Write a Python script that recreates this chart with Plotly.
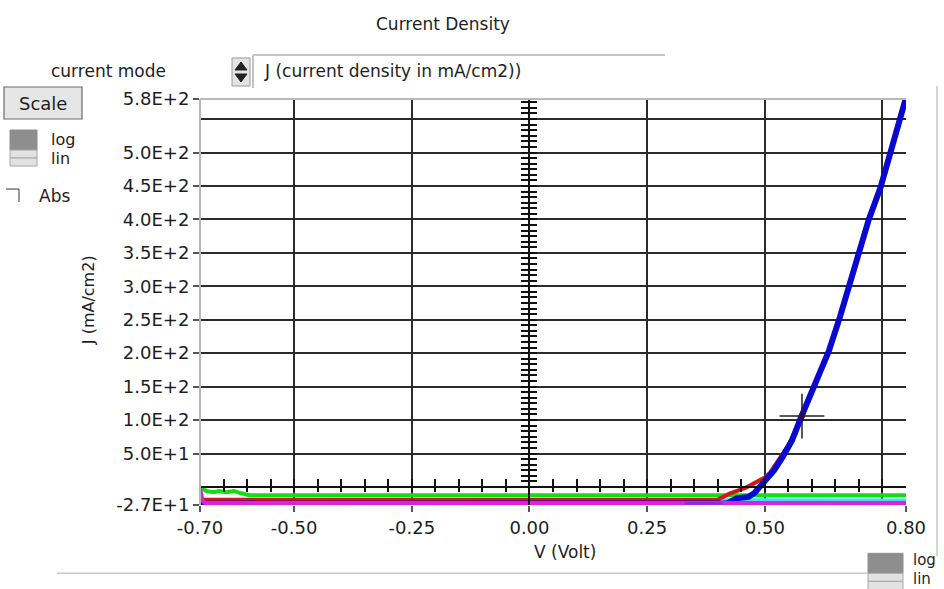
import plotly.graph_objects as go

# ---------------- data ----------------
green_v = [-0.700, -0.685, -0.670, -0.660, -0.643, -0.628, -0.617, -0.596, 0.800]
green_j = [-1.0, -6.5, -8.0, -6.0, -8.0, -6.0, -8.5, -12.5, -12.5]

cyan_v = [0.410, 0.800]
cyan_j = [-19.0, -19.5]

red_v = [-0.700, -0.694, 0.400, 0.425, 0.460, 0.480, 0.500, 0.512, 0.530, 0.550, 0.580, 0.600]
red_j = [-13.0, -19.0, -19.0, -10.0, -1.0, 7.0, 14.0, 22.0, 40.0, 62.0, 106.0, 140.0]

blue_v = [-0.700, -0.690, 0.420, 0.440, 0.465, 0.478, 0.490, 0.500, 0.520, 0.538, 0.558,
          0.577, 0.594, 0.611, 0.636, 0.660, 0.682, 0.721, 0.746, 0.767, 0.787, 0.800]
blue_j = [-25.0, -25.0, -24.5, -17.0, -15.0, -9.0, 0.0, 8.0, 25.0, 45.0, 70.0,
          104.0, 133.0, 160.0, 203.0, 255.0, 305.0, 400.0, 448.0, 498.0, 550.0, 582.0]

magenta_v = [-0.700, -0.695, -0.690, 0.800]
magenta_j = [-1.0, -20.0, -24.0, -24.0]

violet_v = [0.330, 0.410]
violet_j = [-24.5, -24.5]

cursor_v = [0.579]
cursor_j = [106.0]

x_range = [-0.70, 0.80]
y_range = [-27.0, 580.0]

x_tickvals = [-0.70, -0.50, -0.25, 0.00, 0.25, 0.50, 0.80]
x_ticktext = ["-0.70", "-0.50", "-0.25", "0.00", "0.25", "0.50", "0.80"]
x_gridvals = [-0.50, -0.25, 0.25, 0.50, 0.75]
x_minor_ticks = [round(-0.65 + 0.05 * k, 2) for k in range(29)]  # -0.65 .. 0.75

y_tickvals = [-27, 50, 100, 150, 200, 250, 300, 350, 400, 450, 500, 580]
y_ticktext = ["-2.7E+1", "5.0E+1", "1.0E+2", "1.5E+2", "2.0E+2", "2.5E+2", "3.0E+2",
              "3.5E+2", "4.0E+2", "4.5E+2", "5.0E+2", "5.8E+2"]
y_gridvals = [50, 100, 150, 200, 250, 300, 350, 400, 450, 500, 550]
y_minor_ticks = [50.0 / 6.0 * k for k in range(1, 70)]

# ---------------- geometry helpers (pixel -> paper) ----------------
L, R, T, B = 200, 906, 99, 504.7
W, H = 944, 589


def px(x):
    return (x - L) / (R - L)


def py(y):
    return (B - y) / (B - T)


FONT = "DejaVu Sans"
TXT = "#1e1e1e"

fig = go.Figure()


def line_trace(v, j, color, width):
    fig.add_trace(go.Scatter(x=v, y=j, mode="lines", line=dict(color=color, width=width),
                             showlegend=False, hoverinfo="skip", cliponaxis=True))


line_trace(green_v, green_j, "#10e010", 4)
line_trace(cyan_v, cyan_j, "#40e0f0", 3)
line_trace(red_v, red_j, "#d01818", 4)
line_trace(blue_v, blue_j, "#0808d0", 6)
line_trace(magenta_v, magenta_j, "#e020e0", 4)
line_trace(violet_v, violet_j, "#8a2be2", 3)

# cursor
fig.add_trace(go.Scatter(x=cursor_v, y=cursor_j, mode="markers",
                         marker=dict(symbol="cross-thin", size=32, line=dict(color="#222", width=1.5)),
                         showlegend=False, hoverinfo="skip"))
fig.add_trace(go.Scatter(x=cursor_v, y=cursor_j, mode="markers",
                         marker=dict(symbol="circle", size=6, color="#301030"),
                         showlegend=False, hoverinfo="skip"))

# dummy traces to register crossing axes
for xa, ya in [("x2", "y"), ("x3", "y"), ("x", "y2"), ("x", "y3")]:
    fig.add_trace(go.Scatter(x=[None], y=[None], xaxis=xa, yaxis=ya, showlegend=False,
                             hoverinfo="skip"))

y0_frac = (0 - y_range[0]) / (y_range[1] - y_range[0])
x0_frac = (0 - x_range[0]) / (x_range[1] - x_range[0])

tickfont = dict(family=FONT, size=18, color=TXT)

fig.update_layout(
    width=W, height=H,
    margin=dict(l=L, r=W - R, t=T, b=H - B),
    paper_bgcolor="white", plot_bgcolor="white",
    showlegend=False,
    xaxis=dict(range=x_range, tickmode="array", tickvals=x_tickvals, ticktext=x_ticktext,
               ticks="outside", ticklen=6, tickwidth=1.5, tickcolor="#555",
               tickfont=tickfont, showgrid=False, zeroline=False, showline=False,
               minor=dict(tickmode="array", tickvals=x_gridvals, showgrid=True,
                          gridcolor="#2b2b2b", gridwidth=1.8, ticks="")),
    yaxis=dict(range=y_range, tickmode="array", tickvals=y_tickvals, ticktext=y_ticktext,
               ticks="outside", ticklen=6, tickwidth=1.5, tickcolor="#555",
               tickfont=tickfont, showgrid=False, zeroline=False, showline=False,
               minor=dict(tickmode="array", tickvals=y_gridvals, showgrid=True,
                          gridcolor="#2b2b2b", gridwidth=1.8, ticks="")),
    xaxis2=dict(overlaying="x", anchor="free", position=y0_frac, side="bottom", range=x_range,
                tickmode="array", tickvals=x_minor_ticks, ticks="inside", ticklen=7,
                tickwidth=1.5, tickcolor="#111", showticklabels=False, showgrid=False,
                zeroline=False, showline=True, linecolor="#111", linewidth=2),
    xaxis3=dict(overlaying="x", anchor="free", position=y0_frac, side="bottom", range=x_range,
                tickmode="array", tickvals=x_minor_ticks, ticks="outside", ticklen=4,
                tickwidth=1.5, tickcolor="#111", showticklabels=False, showgrid=False,
                zeroline=False, showline=False),
    yaxis2=dict(overlaying="y", anchor="free", position=x0_frac, side="left", range=y_range,
                tickmode="array", tickvals=y_minor_ticks, ticks="outside", ticklen=7,
                tickwidth=1.5, tickcolor="#111", showticklabels=False, showgrid=False,
                zeroline=False, showline=True, linecolor="#111", linewidth=2),
    yaxis3=dict(overlaying="y", anchor="free", position=x0_frac, side="left", range=y_range,
                tickmode="array", tickvals=y_minor_ticks, ticks="inside", ticklen=7,
                tickwidth=1.5, tickcolor="#111", showticklabels=False, showgrid=False,
                zeroline=False, showline=False),
)

shapes = []
ann = []


def rect(x0, y0, x1, y1, fill, line="#888", lw=1):
    shapes.append(dict(type="rect", xref="paper", yref="paper", x0=px(x0), x1=px(x1),
                       y0=py(y1), y1=py(y0), fillcolor=fill, line=dict(color=line, width=lw),
                       layer="above"))


def seg(x0, y0, x1, y1, color, lw=1.5):
    shapes.append(dict(type="line", xref="paper", yref="paper", x0=px(x0), x1=px(x1),
                       y0=py(y0), y1=py(y1), line=dict(color=color, width=lw), layer="above"))


def text(x, y, s, size=17, anchor="center", angle=0):
    ann.append(dict(xref="paper", yref="paper", x=px(x), y=py(y), text=s, showarrow=False,
                    xanchor=anchor, yanchor="middle", textangle=angle,
                    font=dict(family=FONT, size=size, color=TXT)))


# plot frame (light grey top & left)
seg(L, T, R, T, "#b8b8b8", 2)
seg(L, T, L, B, "#b8b8b8", 2)

# title and controls
text(443, 24, "Current Density", 17)
text(108, 71, "current mode", 17)
# ring control
rect(232, 58, 250, 86, "#e4e4e4", "#9a9a9a", 1)
shapes.append(dict(type="path", xref="paper", yref="paper", layer="above",
                   path="M {} {} L {} {} L {} {} Z".format(px(235), py(70), px(247), py(70), px(241), py(62)),
                   fillcolor="#222", line=dict(color="#222", width=1)))
shapes.append(dict(type="path", xref="paper", yref="paper", layer="above",
                   path="M {} {} L {} {} L {} {} Z".format(px(235), py(74), px(247), py(74), px(241), py(82)),
                   fillcolor="#222", line=dict(color="#222", width=1)))
seg(253, 55, 665, 55, "#c4c4c4", 2)
seg(253, 55, 253, 88, "#c4c4c4", 2)
text(262, 71, "J (current density in mA/cm2))", 17, anchor="left")

# Scale button
rect(4, 87, 82, 119, "#e6e6e6", "#6a6a6a", 1.2)
text(43, 103, "Scale", 18)

# log/lin toggle (left)
rect(10, 130, 37, 150, "#8e8e8e", "#8e8e8e", 1)
rect(10, 150, 37, 158, "#e2e2e2", "#a8a8a8", 1)
rect(10, 158, 37, 166, "#e2e2e2", "#a8a8a8", 1)
text(49, 139, "log", 16, anchor="left")
text(49, 158, "lin", 16, anchor="left")

# Abs checkbox
seg(6, 189, 19, 189, "#555", 1.2)
seg(19, 189, 19, 202, "#555", 1.2)
text(37, 196, "Abs", 17, anchor="left")

# axis titles
text(88, 300, "J (mA/cm2)", 16, angle=-90)
text(565, 552, "V (Volt)", 17)

# bottom-right log/lin toggle
rect(868, 553, 903, 573, "#8e8e8e", "#8e8e8e", 1)
rect(868, 573, 903, 581, "#e2e2e2", "#a8a8a8", 1)
rect(868, 581, 903, 590, "#e2e2e2", "#a8a8a8", 1)
text(911, 560, "log", 15, anchor="left")
text(911, 579, "lin", 15, anchor="left")

# panel separators
seg(57, 573, 868, 573, "#c8c8c8", 1.5)
seg(937, 86, 937, 556, "#c8c8c8", 1.5)

fig.update_layout(shapes=shapes, annotations=ann)

fig.write_html("out.html", config={"displayModeBar": False})
